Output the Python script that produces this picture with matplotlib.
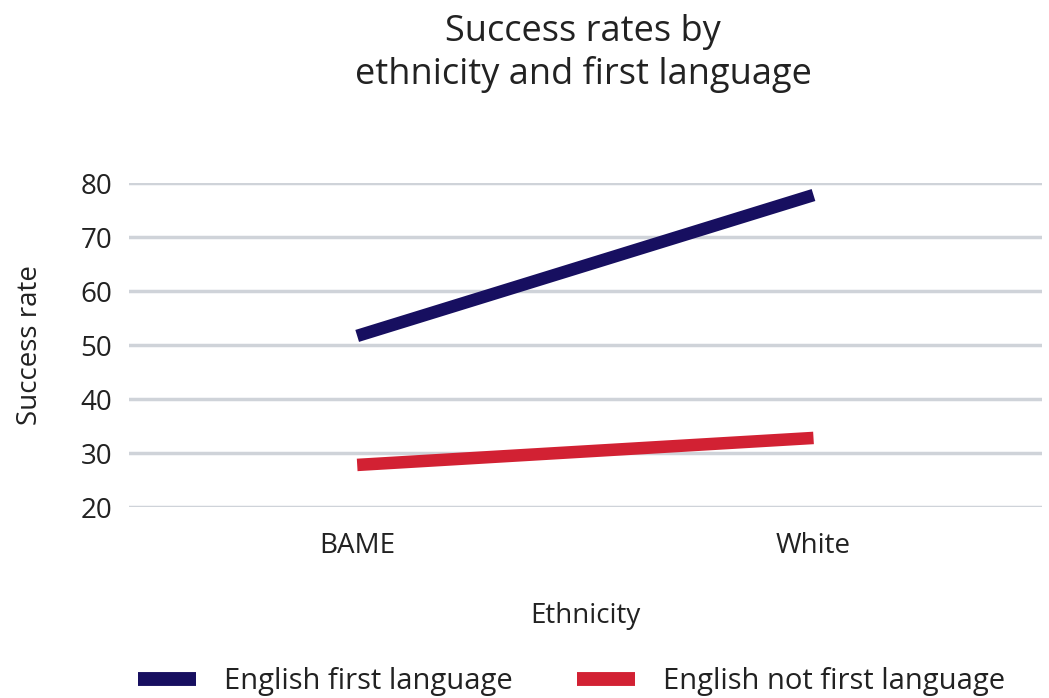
import matplotlib.pyplot as plt
from matplotlib.lines import Line2D

plt.rcParams['font.family'] = ['Open Sans', 'DejaVu Sans']

ethnicity = ['BAME', 'White']
english_first = [51.7, 77.8]
english_not_first = [27.8, 32.8]

navy = '#170f60'
red = '#d22133'
grid = '#cfd3d9'
text = '#222222'

fig = plt.figure(figsize=(10.49, 6.98), dpi=100)
ax = fig.add_axes([0.123, 0.2736, 0.870, 0.464])

x = range(len(ethnicity))
ax.plot(x, english_first, color=navy, lw=9, solid_capstyle='butt', label='English first language')
ax.plot(x, english_not_first, color=red, lw=9, solid_capstyle='butt', label='English not first language')

ax.set_xlim(-0.5, 1.5)
ax.set_ylim(20, 80)
ax.set_yticks([20, 30, 40, 50, 60, 70, 80])
ax.set_xticks(list(x))
ax.set_xticklabels(ethnicity)
ax.yaxis.grid(True, color=grid, lw=2.5)
ax.set_axisbelow(True)
for s in ax.spines.values():
    s.set_visible(False)
ax.tick_params(axis='both', length=0, labelsize=20, colors=text, pad=12)
ax.tick_params(axis='x', pad=18)
ax.set_ylabel('Success rate', fontsize=20, color=text, labelpad=26)
ax.set_xlabel('Ethnicity', fontsize=20, color=text, labelpad=30)

fig.suptitle('Success rates by\nethnicity and first language', fontsize=26, color=text,
             x=0.556, y=0.98, linespacing=1.2)

handles = [Line2D([0], [0], color=navy, lw=10, solid_capstyle='butt'),
           Line2D([0], [0], color=red, lw=10, solid_capstyle='butt')]
fig.legend(handles, ['English first language', 'English not first language'],
           loc='lower center', bbox_to_anchor=(0.545, -0.035), ncol=2, frameon=False,
           fontsize=21, handlelength=2.0, handletextpad=0.95, columnspacing=2.2,
           labelcolor=text)

fig.savefig('out.png', dpi=100)
